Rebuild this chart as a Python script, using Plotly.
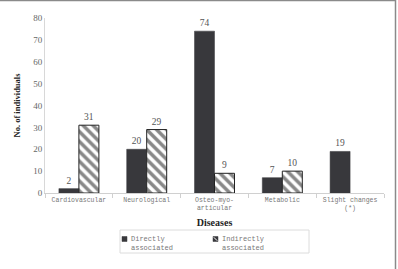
import plotly.graph_objects as go

categories = ["Cardiovascular", "Neurological", "Osteo-myo-<br>articular", "Metabolic", "Slight changes<br>(*)"]
directly = [2, 20, 74, 7, 19]
indirectly = [31, 29, 9, 10, None]
series_names = ["Directly<br>associated", "Indirectly<br>associated"]
y_ticks = [0, 10, 20, 30, 40, 50, 60, 70, 80]

W, H = 398, 269
L, R, T, B = 45, 14, 18, 76
pw, ph = W - L - R, H - T - B

serif = "Liberation Serif, Times New Roman, serif"
mono = "Liberation Mono, Courier New, monospace"

fig = go.Figure()
fig.add_trace(go.Bar(
    x=categories, y=directly, name=series_names[0], showlegend=False,
    marker=dict(color="#38383c", line=dict(color="#38383c", width=0.5)),
    text=[str(v) for v in directly], textposition="outside",
    textfont=dict(family=serif, size=9.5, color="#555"),
    cliponaxis=False,
))
fig.add_trace(go.Bar(
    x=categories, y=indirectly, name=series_names[1], showlegend=False,
    marker=dict(color="white", line=dict(color="#222", width=1),
                pattern=dict(shape="\\", fgcolor="#111111", bgcolor="white", size=7, solidity=0.5)),
    text=[("" if v is None else str(v)) for v in indirectly], textposition="outside",
    textfont=dict(family=serif, size=9.5, color="#555"),
    cliponaxis=False,
))

def px_x(x):
    return (x - L) / pw

def px_y(y):
    return (H - B - y) / ph

# manual legend
shapes = [
    dict(type="rect", xref="paper", yref="paper", x0=px_x(120), x1=px_x(309), y0=px_y(230), y1=px_y(253),
         line=dict(color="#dcdcdc", width=1), fillcolor="white"),
    dict(type="rect", xref="paper", yref="paper", x0=px_x(122), x1=px_x(127), y0=px_y(236.5), y1=px_y(241.5),
         line=dict(color="#38383c", width=0.5), fillcolor="#38383c"),
    dict(type="rect", xref="paper", yref="paper", x0=px_x(213), x1=px_x(218), y0=px_y(236.5), y1=px_y(241.5),
         line=dict(color="#38383c", width=0.5), fillcolor="#38383c"),
    dict(type="line", xref="paper", yref="paper", x0=px_x(213.8), x1=px_x(217.2), y0=px_y(237.3), y1=px_y(240.7),
         line=dict(color="white", width=1)),
    # figure border (top and right)
    dict(type="line", xref="paper", yref="paper", x0=px_x(0), x1=px_x(396), y0=px_y(0.5), y1=px_y(0.5),
         line=dict(color="#8a8a8a", width=1.5)),
    dict(type="line", xref="paper", yref="paper", x0=px_x(395.5), x1=px_x(395.5), y0=px_y(0), y1=px_y(269),
         line=dict(color="#8a8a8a", width=1.5)),
]
annotations = [
    dict(text=series_names[0], xref="paper", yref="paper", x=px_x(129), y=px_y(233), xanchor="left", yanchor="top",
         showarrow=False, align="left", font=dict(family=mono, size=7, color="#777")),
    dict(text=series_names[1], xref="paper", yref="paper", x=px_x(220), y=px_y(233), xanchor="left", yanchor="top",
         showarrow=False, align="left", font=dict(family=mono, size=7, color="#777")),
]

fig.update_layout(
    width=W, height=H,
    margin=dict(l=L, r=R, t=T, b=B, autoexpand=False),
    paper_bgcolor="white", plot_bgcolor="white",
    barmode="group", bargap=0.41, bargroupgap=0,
    showlegend=False,
    xaxis=dict(
        automargin=False,
        showline=True, linecolor="#d0d0d0", linewidth=1,
        ticks="outside", tickson="boundaries", ticklen=4, tickcolor="#d0d0d0",
        tickfont=dict(family=mono, size=6.5, color="#777"),
        title=dict(text="<b>Diseases</b>", font=dict(family=serif, size=10, color="#222"), standoff=7),
        showgrid=False,
    ),
    yaxis=dict(
        automargin=False,
        range=[0, 80], tickvals=y_ticks, showline=True, linecolor="#d8d8d8", linewidth=1,
        ticks="", showgrid=False, zeroline=False,
        tickfont=dict(family=serif, size=9, color="#666"),
        title=dict(text="<b>No. of individuals</b>", font=dict(family=serif, size=8.5, color="#222"), standoff=11),
    ),
    shapes=shapes,
    annotations=annotations,
)

fig.write_html("out.html")
